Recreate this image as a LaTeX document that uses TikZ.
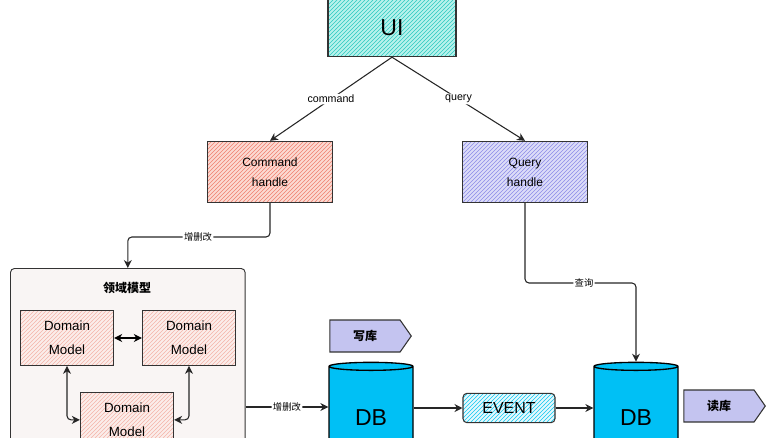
\documentclass[tikz,border=0pt]{standalone}
\usepackage{fontspec}
\setmainfont{Liberation Sans}
\newfontfamily\cjk{Noto Sans CJK SC}
\usetikzlibrary{shapes.geometric,shapes.symbols,patterns,arrows.meta}
\definecolor{uiF}{HTML}{B8F2EC}\definecolor{uiL}{HTML}{2CC9C0}
\definecolor{cmF}{HTML}{FBDAD2}\definecolor{cmL}{HTML}{F08070}
\definecolor{qhF}{HTML}{DCDCF8}\definecolor{qhL}{HTML}{8C8CE8}
\definecolor{dmF}{HTML}{FBEDEA}\definecolor{dmL}{HTML}{F4B4AA}
\definecolor{evF}{HTML}{E6F8FD}\definecolor{evL}{HTML}{10C8F0}
\definecolor{dbF}{HTML}{00C0F5}\definecolor{tagF}{HTML}{C4C4F0}
\definecolor{conF}{HTML}{F9F5F4}
\begin{document}
\begin{tikzpicture}[x=0.75pt,y=-0.75pt,
  box/.style={draw=black!80,line width=0.8pt,inner sep=0pt,align=center,font=\small},
  hatch/.style 2 args={preaction={fill=#1},pattern=north east lines,pattern color=#2},
  con/.style={draw=black!85,line width=0.8pt,rounded corners=3pt},
  arr/.style={con,-{Stealth[length=6pt,width=6pt]}},
  lab/.style={fill=white,inner sep=1pt,font=\footnotesize},
  clab/.style={fill=white,inner sep=1pt,font=\cjk\scriptsize},
  db/.style={cylinder,shape border rotate=90,draw=black,line width=1pt,fill=dbF,aspect=0.25,minimum width=63pt,minimum height=80pt,inner sep=0pt,font=\LARGE\rmfamily},
  tag/.style={signal,signal to=east,draw=black!80,line width=0.8pt,fill=tagF,font=\cjk\small\bfseries,inner sep=2pt,minimum height=24pt,minimum width=61pt,signal pointer angle=110}
]
\useasboundingbox (0,0) rectangle (778,437);
\clip (0,0) rectangle (778,437);
\node[box,hatch={uiF}{uiL},minimum width=96pt,minimum height=43pt,font=\LARGE] (ui) at (392,28) {UI};
\node[box,hatch={cmF}{cmL},minimum width=94pt,minimum height=46pt] (ch) at (270,172) {Command\\[4pt]handle};
\node[box,hatch={qhF}{qhL},minimum width=94pt,minimum height=46pt] (qh) at (525,172) {Query\\[4pt]handle};
\draw[arr] (ui.south) -- node[lab,pos=0.5]{command} (ch.north);
\draw[arr] (ui.south) -- node[lab,pos=0.5]{query} (qh.north);
\node[draw=black!80,fill=conF,line width=0.7pt,rounded corners=3pt,minimum width=176pt,minimum height=160pt,anchor=north west,inner sep=0pt] (dom) at (10,268) {};
\node[font=\cjk\small\bfseries] (domt) at (127,288) {领域模型};
\node[box,hatch={dmF}{dmL},minimum width=70pt,minimum height=41pt,font=\normalsize] (m1) at (67,338) {Domain\\[6pt]Model};
\node[box,hatch={dmF}{dmL},minimum width=70pt,minimum height=41pt,font=\normalsize] (m2) at (189,338) {Domain\\[6pt]Model};
\node[box,hatch={dmF}{dmL},minimum width=70pt,minimum height=41pt,font=\normalsize,anchor=north] (m3) at (127,392) {Domain\\[6pt]Model};
\draw[con,-{Stealth[length=6pt,width=6pt]}] (ch.south) |- node[clab,pos=1]{增删改} (198,237) -| (dom.north);
\draw[{Stealth[length=6pt,width=6pt]}-{Stealth[length=6pt,width=6pt]},line width=0.8pt] (m1.east) -- (m2.west);
\draw[{Stealth[length=6pt,width=6pt]}-{Stealth[length=6pt,width=6pt]},con] (m1.south) |- (m3.west);
\draw[{Stealth[length=6pt,width=6pt]}-{Stealth[length=6pt,width=6pt]},con] (m2.south) |- (m3.east);
\node[db] (db1) at (371,418) {DB};
\node[db] (db2) at (636,418) {DB};
\coordinate (o) at (dom.east |- 0,407);
\draw[arr] (o) -- node[clab]{增删改} (db1.west |- o);
\node[box,hatch={evF}{evL},rounded corners=3pt,minimum width=69pt,minimum height=22pt,font=\large\rmfamily] (ev) at (509,408) {EVENT};
\draw[arr] (db1.east |- ev) -- (ev.west);
\draw[arr] (ev.east) -- (db2.west |- ev);
\node[tag] (w) at (365,336) {写库};
\node[tag] (r) at (719,406) {读库};
\draw[arr] (qh.south) |- node[clab,pos=1]{查询} (584,283) -| (db2.north);
\end{tikzpicture}
\end{document}
